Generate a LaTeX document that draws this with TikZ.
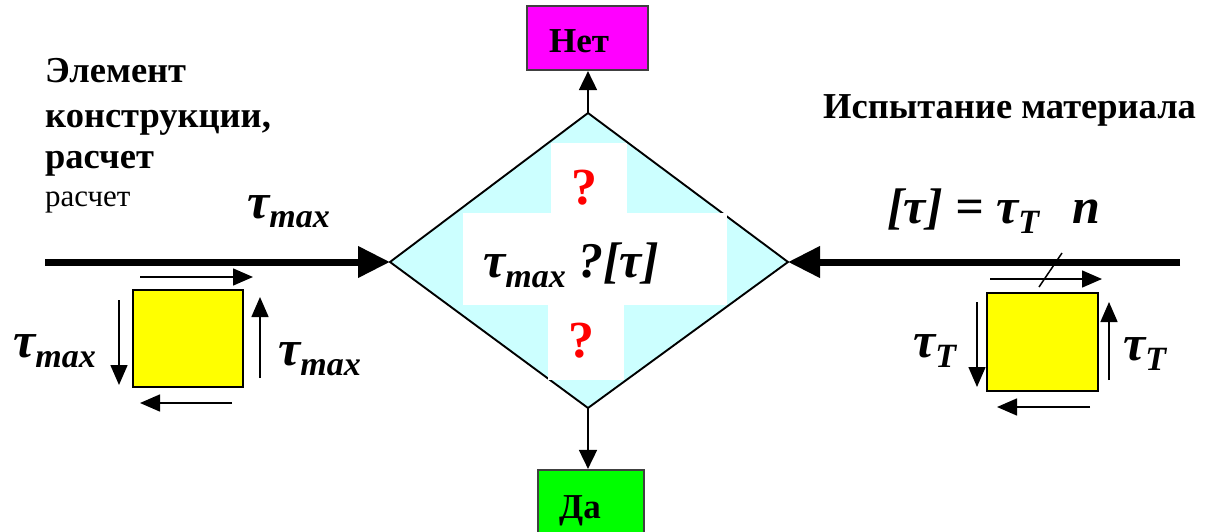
\documentclass[tikz,border=0pt]{standalone}
\usepackage{fontspec}
\setmainfont{Liberation Serif}
\usetikzlibrary{arrows.meta}
\definecolor{diafill}{HTML}{CCFFFF}
\definecolor{netfill}{HTML}{FF00FF}
\definecolor{dafill}{HTML}{00FF00}
\definecolor{sqfill}{HTML}{FFFF00}
\definecolor{boxedge}{HTML}{404040}
\definecolor{qred}{HTML}{FF0000}
\newcommand\lowsub[1]{\raisebox{-0.2em}{\fontsize{34}{34}\selectfont #1}}
\begin{document}
\begin{tikzpicture}[x=1pt,y=-1pt,
  titletxt/.style={font=\fontsize{36.5}{42}\selectfont\bfseries, inner sep=0pt, anchor=base west},
  smalltxt/.style={font=\fontsize{31}{36}\selectfont, inner sep=0pt, anchor=base west},
  frm/.style={font=\fontsize{50}{56}\selectfont\bfseries\itshape, inner sep=0pt, anchor=base west},
  qmark/.style={font=\fontsize{52}{58}\selectfont\bfseries, text=qred, inner sep=0pt, anchor=base},
  shear/.style={line width=1.5pt, -{Triangle[length=20pt,width=17pt]}},
  bigarrow/.style={line width=7pt, -{Triangle[length=32pt,width=30pt]}},
  link/.style={line width=1.8pt, -{Triangle[length=19pt,width=18pt]}},
  sq/.style={draw=black, line width=1.8pt, fill=sqfill, inner sep=0pt},
  ansbox/.style={draw=boxedge, line width=2.2pt, inner sep=0pt},
  anstxt/.style={font=\fontsize{35}{40}\selectfont\bfseries, inner sep=0pt, anchor=base},
]
\useasboundingbox (0,0) rectangle (1210,532);
\clip (0,0) rectangle (1210,532);

% diamond
\coordinate (dT) at (588,113);
\coordinate (dL) at (390,262);
\coordinate (dR) at (788,262);
\coordinate (dB) at (588,408);
\fill[diafill] (dT) -- (dR) -- (dB) -- (dL) -- cycle;
\draw[line width=1.9pt, line join=miter] (dT) -- (dR) -- (dB) -- (dL) -- cycle;
\fill[white] (463,213) rectangle (727,305);
\fill[white] (551,143) rectangle (627,213);
\fill[white] (548,305) rectangle (624,380);

\node[frm] (cond) at (483,277) {τ\lowsub{max} ?[τ]};
\node[qmark] (q1) at (584,204) {?};
\node[qmark] (q2) at (581,357) {?};

% answer boxes
\node[ansbox, fill=netfill, minimum width=121pt, minimum height=64pt] (net) at (587.5,38) {};
\node[anstxt] (nettxt) at (579,53) {Нет};
\node[ansbox, fill=dafill, minimum width=106pt, minimum height=80pt] (da) at (591,510) {};
\node[anstxt] (datxt) at (580,518) {Да};
\draw[link] (dT) -- (dT |- net.south);
\draw[link] (dB) -- (dB |- da.north);

% main thick arrows
\coordinate (lstart) at (45,262);
\coordinate (rstart) at (1180,262);
\draw[bigarrow] (lstart) -- (dL);
\draw[bigarrow] (rstart) -- (dR);

% left texts
\node[titletxt] (t1) at (45,83) {Элемент};
\node[titletxt] (t2) at (45,128) {конструкции,};
\node[titletxt] (t3) at (45,168) {расчет};
\node[smalltxt] (t4) at (45,206) {расчет};
\node[frm] (tmaxtop) at (247,218) {τ\lowsub{max}};

% right texts
\node[titletxt] (t5) at (823,119) {Испытание материала};
\node[frm] (allow) at (887,223) {[τ] = τ\lowsub{T}\hspace{33pt}n};

% left square
\node[sq, minimum width=110pt, minimum height=97pt] (sqL) at (188,338.5) {};
\coordinate (la1) at (140,277); \coordinate (la2) at (253,277);
\coordinate (lb1) at (232,403); \coordinate (lb2) at (140,403);
\coordinate (lc1) at (119,300); \coordinate (lc2) at (119,385);
\coordinate (ld1) at (260,378); \coordinate (ld2) at (260,297);
\draw[shear] (la1) -- (la2);
\draw[shear] (lb1) -- (lb2);
\draw[shear] (lc1) -- (lc2);
\draw[shear] (ld1) -- (ld2);
\node[frm] (tl1) at (13,357) {τ\lowsub{max}};
\node[frm] (tl2) at (278,365) {τ\lowsub{max}};

% right square
\node[sq, minimum width=111pt, minimum height=98pt] (sqR) at (1042.5,342) {};
\coordinate (ra1) at (990,279); \coordinate (ra2) at (1102,279);
\coordinate (rb1) at (1090,407); \coordinate (rb2) at (997,407);
\coordinate (rc1) at (977,302); \coordinate (rc2) at (977,387);
\coordinate (rd1) at (1109,380); \coordinate (rd2) at (1109,302);
\draw[shear] (ra1) -- (ra2);
\draw[shear] (rb1) -- (rb2);
\draw[shear] (rc1) -- (rc2);
\draw[shear] (rd1) -- (rd2);
\coordinate (s1) at (1039,287); \coordinate (s2) at (1062,253);
\draw[line width=1.5pt] (s1) -- (s2);
\node[frm] (tr1) at (913,357) {τ\lowsub{T}};
\node[frm] (tr2) at (1123,360) {τ\lowsub{T}};
\end{tikzpicture}
\end{document}
